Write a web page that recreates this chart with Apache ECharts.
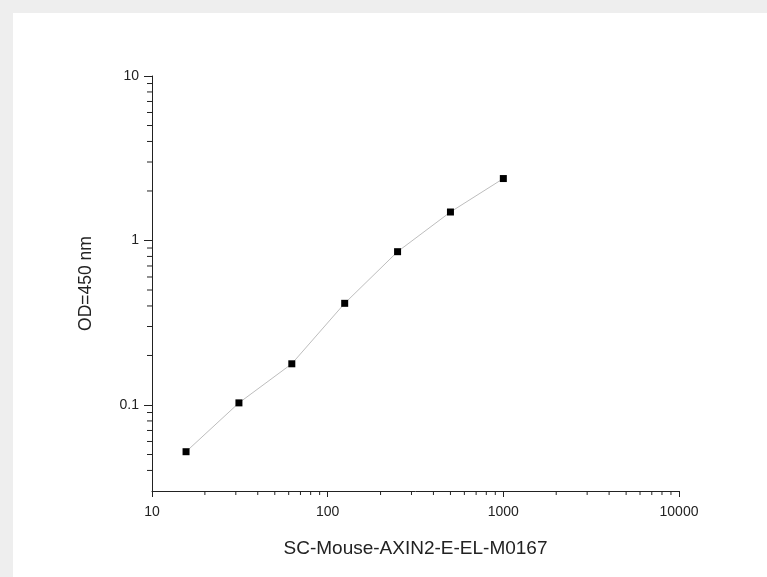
<!DOCTYPE html>
<html>
<head>
<meta charset="utf-8">
<script src="https://cdn.jsdelivr.net/npm/echarts@6/dist/echarts.min.js"></script>
<style>
  html, body { margin: 0; padding: 0; background: #eeeeee; }
  #chart { position: absolute; left: 13px; top: 13px; width: 754px; height: 564px; background: #ffffff; }
</style>
</head>
<body>
<div id="chart"></div>
<script>
var concentrations = [15.625, 31.25, 62.5, 125, 250, 500, 1000];
var odValues = [0.052, 0.103, 0.178, 0.415, 0.855, 1.49, 2.38];
var xMinorTicks = [20, 30, 40, 50, 60, 70, 80, 90, 200, 300, 400, 500, 600, 700, 800, 900, 2000, 3000, 4000, 5000, 6000, 7000, 8000, 9000];
var yMinorTicks = [0.04, 0.05, 0.06, 0.07, 0.08, 0.09, 0.2, 0.3, 0.4, 0.5, 0.6, 0.7, 0.8, 0.9, 2, 3, 4, 5, 6, 7, 8, 9];
var xTitle = 'SC-Mouse-AXIN2-E-EL-M0167';
var yTitle = 'OD=450 nm';

var xMin = 10, xMax = 10000, yMin = 0.03, yMax = 10;

var myChart = echarts.init(document.getElementById('chart'));

var points = [];
for (var i = 0; i < concentrations.length; i++) {
  points.push([concentrations[i], odValues[i]]);
}

var minorData = [];
for (var a = 0; a < xMinorTicks.length; a++) minorData.push([xMinorTicks[a], yMin, 0]);
for (var b = 0; b < yMinorTicks.length; b++) minorData.push([xMin, yMinorTicks[b], 1]);

function fmt(v) {
  return String(+Number(v).toPrecision(4));
}

var option = {
  animation: false,
  grid: { left: 139, right: 88, top: 63, bottom: 86 },
  xAxis: {
    type: 'log',
    logBase: 10,
    min: xMin,
    max: xMax,
    name: xTitle,
    nameLocation: 'middle',
    nameGap: 48,
    nameTextStyle: { fontFamily: 'Liberation Sans', fontSize: 19, color: '#222' },
    axisLine: { lineStyle: { color: '#222', width: 1 } },
    axisTick: { inside: false, length: 6, lineStyle: { color: '#222' } },
    axisLabel: { margin: 14, fontFamily: 'Liberation Sans', fontSize: 14, color: '#222', formatter: fmt },
    splitLine: { show: false }
  },
  yAxis: {
    type: 'log',
    logBase: 10,
    min: yMin,
    max: yMax,
    name: yTitle,
    nameLocation: 'middle',
    nameGap: 57,
    nameTextStyle: { fontFamily: 'Liberation Sans', fontSize: 17.5, color: '#222' },
    axisLine: { show: true, lineStyle: { color: '#222', width: 1 } },
    axisTick: { show: true, inside: false, length: 8, lineStyle: { color: '#222' } },
    axisLabel: { margin: 13, fontFamily: 'Liberation Sans', fontSize: 14, color: '#222', showMinLabel: false, formatter: fmt },
    splitLine: { show: false }
  },
  series: [
    {
      type: 'line',
      data: points,
      symbol: 'rect',
      symbolSize: 7,
      itemStyle: { color: '#000' },
      lineStyle: { color: '#bdbdbd', width: 1 }
    },
    {
      // minor ticks on the log axes
      type: 'custom',
      data: minorData,
      silent: true,
      clip: false,
      renderItem: function (params, api) {
        var p = api.coord([api.value(0), api.value(1)]);
        var onX = api.value(2) === 0;
        var shape = onX
          ? { x1: p[0], y1: p[1], x2: p[0], y2: p[1] + 4 }
          : { x1: p[0] - 5, y1: p[1], x2: p[0], y2: p[1] };
        return {
          type: 'line',
          shape: shape,
          style: { stroke: '#222', lineWidth: 1 }
        };
      }
    }
  ]
};
myChart.setOption(option);
</script>
</body>
</html>
